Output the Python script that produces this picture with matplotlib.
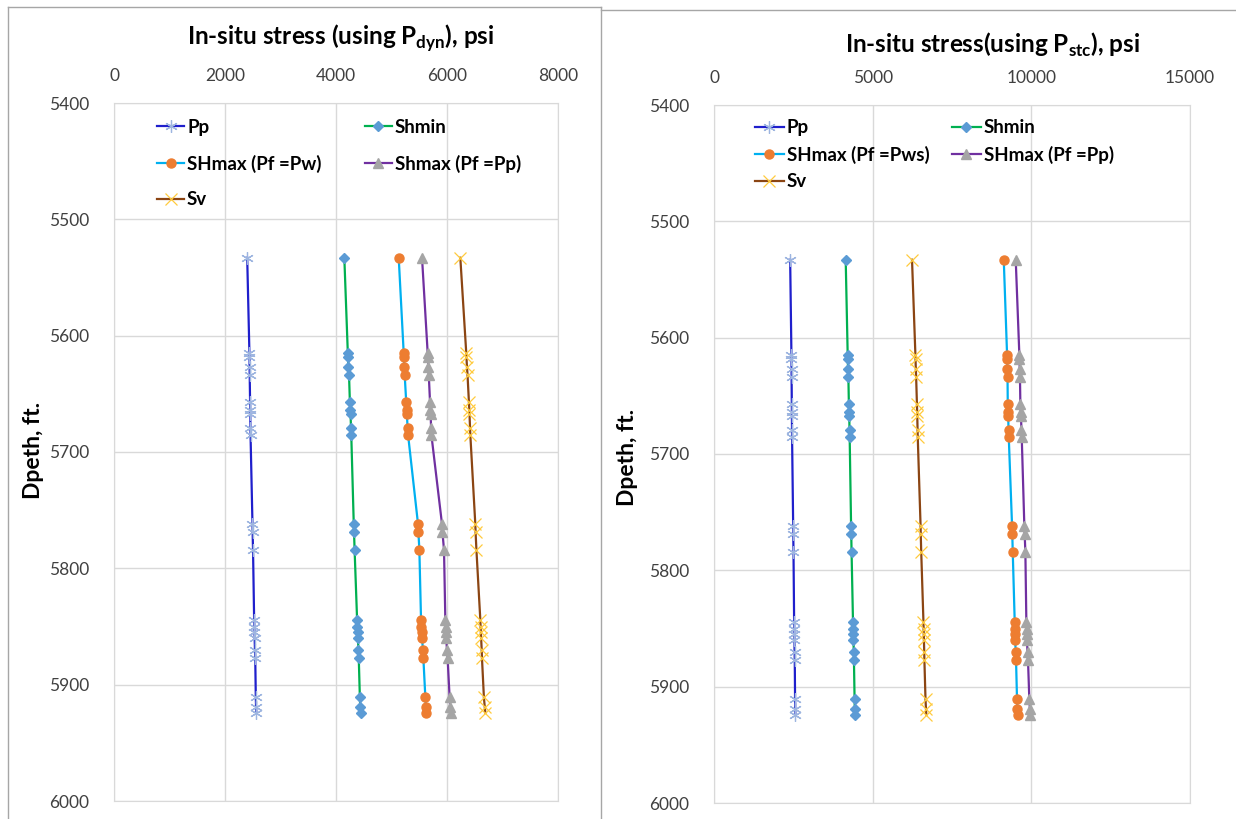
import matplotlib
matplotlib.use("Agg")
import matplotlib.pyplot as plt
from matplotlib.lines import Line2D

plt.rcParams['font.family'] = ['Lato', 'DejaVu Sans']

# depth of each measured point, ft
depth = [5533, 5615, 5618, 5627, 5634, 5657, 5664, 5667, 5679, 5685, 5762,
         5769, 5784, 5844, 5850, 5855, 5860, 5870, 5877, 5911, 5919, 5924]

pp = [2400, 2440, 2441, 2443, 2445, 2452, 2454, 2455, 2458, 2460, 2495,
      2498, 2505, 2525, 2528, 2531, 2534, 2540, 2545, 2555, 2560, 2564]
shmin = [4150, 4213, 4215, 4225, 4235, 4250, 4258, 4262, 4270, 4275, 4320,
         4325, 4335, 4380, 4385, 4390, 4395, 4405, 4410, 4430, 4437, 4442]
sv = [6240, 6347, 6350, 6360, 6370, 6395, 6402, 6405, 6415, 6420, 6510,
      6515, 6530, 6600, 6605, 6610, 6615, 6625, 6630, 6665, 6680, 6690]

# SHmax using dynamic properties
shmax_pw = [5130, 5220, 5222, 5230, 5238, 5265, 5272, 5276, 5290, 5298, 5478,
            5485, 5502, 5532, 5538, 5545, 5552, 5565, 5574, 5610, 5620, 5628]
shmax_pp = [5550, 5652, 5655, 5665, 5672, 5694, 5700, 5705, 5713, 5718, 5910,
            5918, 5946, 5970, 5975, 5980, 5985, 6000, 6011, 6047, 6057, 6065]

# SHmax using static properties
shmax_pws_stc = [9131, 9236, 9238, 9245, 9250, 9257, 9265, 9270, 9282, 9288, 9393,
                 9400, 9414, 9476, 9482, 9488, 9494, 9505, 9518, 9549, 9562, 9571]
shmax_pp_stc = [9508, 9623, 9626, 9635, 9642, 9654, 9665, 9670, 9690, 9697, 9780,
                9790, 9812, 9843, 9850, 9857, 9862, 9880, 9895, 9937, 9955, 9969]

left_ticks = [0, 2000, 4000, 6000, 8000]
right_ticks = [0, 5000, 10000, 15000]
depth_ticks = [5400, 5500, 5600, 5700, 5800, 5900, 6000]

styles = {
    'pp': dict(color='#1F1FCC', marker=(6, 2, 0), mfc='none', mec='#9DB5E0', ms=9, mew=0.9),
    'shmin': dict(color='#00B050', marker='D', mfc='#5B9BD5', mec='#5B9BD5', ms=5),
    'pw': dict(color='#00B0F0', marker='o', mfc='#ED7D31', mec='#ED7D31', ms=6.5),
    'ppmax': dict(color='#7030A0', marker='^', mfc='#A5A5A5', mec='#A5A5A5', ms=7),
    'sv': dict(color='#8B4513', marker='x', mfc='none', mec='#FFCB3D', ms=8, mew=0.9),
}

fig = plt.figure(figsize=(12.36, 8.19), dpi=100)
W, H = 1236, 819


def box(x0, y0, x1, y1):
    return [x0 / W, 1 - y1 / H, (x1 - x0) / W, (y1 - y0) / H]


ax1 = fig.add_axes(box(114, 103, 558, 801))
ax2 = fig.add_axes(box(714, 105, 1190, 803))


def setup(ax, xmax, ticks):
    ax.set_xlim(0, xmax)
    ax.set_ylim(6000, 5400)
    ax.set_xticks(ticks)
    ax.set_yticks(depth_ticks)
    ax.xaxis.tick_top()
    ax.grid(True, color='#D9D9D9', lw=1)
    ax.set_axisbelow(True)
    for s in ax.spines.values():
        s.set_color('#D9D9D9')
    ax.tick_params(length=0, labelsize=12.5, labelcolor='#404040')
    ax.tick_params(axis='x', pad=14)
    ax.tick_params(axis='y', pad=18)


setup(ax1, 8000, left_ticks)
setup(ax2, 15000, right_ticks)

lw = 1.6
h = {}
h['pp'], = ax1.plot(pp, depth, lw=lw, label='Pp', **styles['pp'])
h['shmin'], = ax1.plot(shmin, depth, lw=lw, label='Shmin', **styles['shmin'])
h['pw'], = ax1.plot(shmax_pw, depth, lw=lw, label='SHmax (Pf =Pw)', **styles['pw'])
h['ppmax'], = ax1.plot(shmax_pp, depth, lw=lw, label='Shmax (Pf =Pp)', **styles['ppmax'])
h['sv'], = ax1.plot(sv, depth, lw=lw, label='Sv', **styles['sv'])

order = ['pp', 'pw', 'sv', 'shmin', 'ppmax']
ax1.legend([h[k] for k in order], [h[k].get_label() for k in order], ncol=2,
           loc='upper left', bbox_to_anchor=(0.08, 0.988), frameon=False,
           prop=dict(weight='bold', size=13.5), handlelength=1.45, handletextpad=0.15,
           columnspacing=2.3, labelspacing=1.0, borderaxespad=0)

g = {}
g['pp'], = ax2.plot(pp, depth, lw=lw, label='Pp', **styles['pp'])
g['shmin'], = ax2.plot(shmin, depth, lw=lw, label='Shmin', **styles['shmin'])
g['pw'], = ax2.plot(shmax_pws_stc, depth, lw=lw, label='SHmax (Pf =Pws)', **styles['pw'])
g['ppmax'], = ax2.plot(shmax_pp_stc, depth, lw=lw, label='SHmax (Pf =Pp)', **styles['ppmax'])
g['sv'], = ax2.plot(sv, depth, lw=lw, label='Sv', **styles['sv'])

ax2.legend([g[k] for k in order], [g[k].get_label() for k in order], ncol=2,
           loc='upper left', bbox_to_anchor=(0.07, 0.99), frameon=False,
           prop=dict(weight='bold', size=13.5), handlelength=1.55, handletextpad=0.15,
           columnspacing=1.2, labelspacing=0.5, borderaxespad=0)

# titles and axis names
fig.text(341 / W, 1 - 38 / H, r'In-situ stress (using P$_{\mathregular{dyn}}$), psi',
         ha='center', va='center', fontsize=17.5, weight='bold')
fig.text(993 / W, 1 - 45 / H, r'In-situ stress(using P$_{\mathregular{stc}}$), psi',
         ha='center', va='center', fontsize=17.5, weight='bold')
fig.text(33 / W, 1 - 450 / H, 'Dpeth, ft.', rotation=90, ha='center', va='center',
         fontsize=16.5, weight='bold')
fig.text(628 / W, 1 - 457 / H, 'Dpeth, ft.', rotation=90, ha='center', va='center',
         fontsize=16.5, weight='bold')

# panel borders
bc = '#A6A6A6'
for xs, ys in [([8, 8], [7, 819]), ([8, 601], [7, 7]), ([601, 601], [7, 819]),
               ([601, 1236], [10, 10])]:
    fig.add_artist(Line2D([x / W for x in xs], [1 - y / H for y in ys], color=bc, lw=1))

fig.savefig('out.png', dpi=100)
